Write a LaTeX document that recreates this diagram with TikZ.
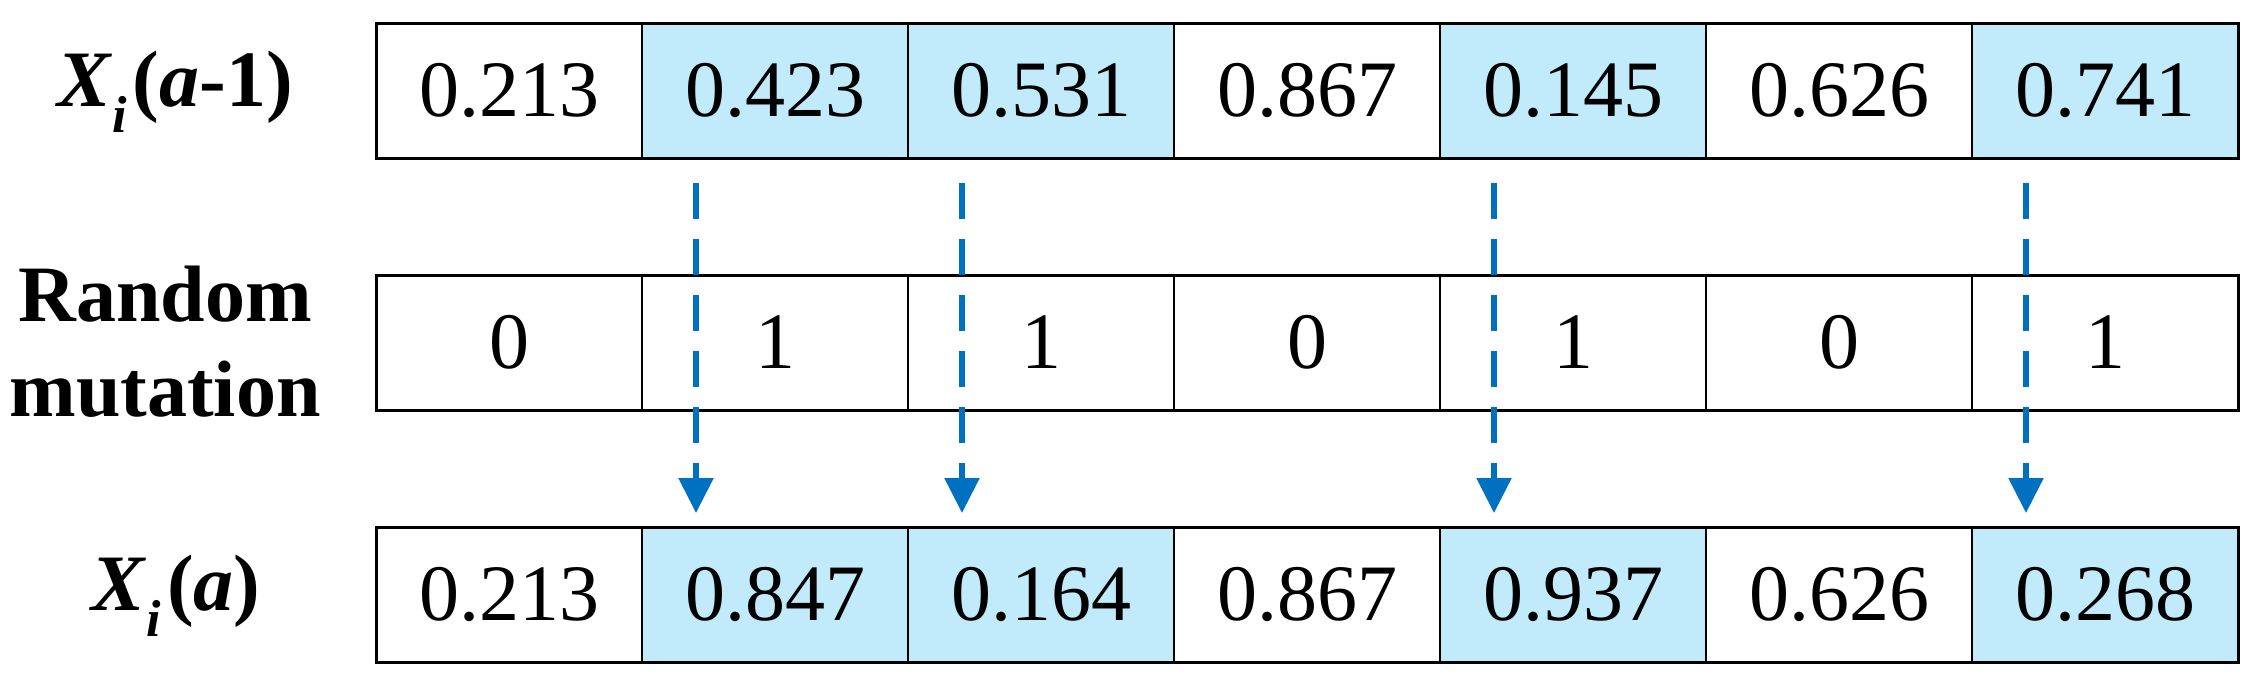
\documentclass[tikz,border=0pt]{standalone}
\usepackage{fontspec}
\setmainfont{Liberation Serif}
\usetikzlibrary{arrows.meta}
\definecolor{cellblue}{RGB}{193,234,251}
\definecolor{arrblue}{RGB}{0,112,192}
\tikzset{
  cell/.style={draw=black, line width=2pt, minimum width=266pt, minimum height=135pt,
    inner sep=0pt, outer sep=0pt, anchor=north west,
    font=\fontsize{80pt}{96pt}\selectfont},
  hl/.style={cell, fill=cellblue},
  rowframe/.style={draw=black, line width=3pt},
  lbl/.style={align=center, inner sep=0pt, font=\fontsize{80pt}{95pt}\selectfont\bfseries},
  mutarrow/.style={draw=arrblue, line width=5.5pt, dash pattern=on 36pt off 20pt,
    -{Triangle[length=35pt,width=34pt]}}
}
\newcommand{\subi}{\raisebox{-0.32em}{\fontsize{52pt}{60pt}\selectfont\textit{i}}\hspace{0.08em}}
\begin{document}
\begin{tikzpicture}[x=1pt,y=1pt]
\useasboundingbox (0,0) rectangle (2253,-680);
% row 1
\node[cell] (a1) at (376,-23) {0.213};
\node[hl]   (a2) at (642,-23) {0.423};
\node[hl]   (a3) at (908,-23) {0.531};
\node[cell] (a4) at (1174,-23) {0.867};
\node[hl]   (a5) at (1440,-23) {0.145};
\node[cell] (a6) at (1706,-23) {0.626};
\node[hl]   (a7) at (1972,-23) {0.741};
\draw[rowframe] (a1.north west) rectangle (a7.south east);
% row 2
\node[cell] (b1) at (376,-275) {0};
\node[cell] (b2) at (642,-275) {1};
\node[cell] (b3) at (908,-275) {1};
\node[cell] (b4) at (1174,-275) {0};
\node[cell] (b5) at (1440,-275) {1};
\node[cell] (b6) at (1706,-275) {0};
\node[cell] (b7) at (1972,-275) {1};
\draw[rowframe] (b1.north west) rectangle (b7.south east);
% row 3
\node[cell] (c1) at (376,-527) {0.213};
\node[hl]   (c2) at (642,-527) {0.847};
\node[hl]   (c3) at (908,-527) {0.164};
\node[cell] (c4) at (1174,-527) {0.867};
\node[hl]   (c5) at (1440,-527) {0.937};
\node[cell] (c6) at (1706,-527) {0.626};
\node[hl]   (c7) at (1972,-527) {0.268};
\draw[rowframe] (c1.north west) rectangle (c7.south east);
% labels
\node[lbl] (la) at (175,-92) {\textit{X}\subi(\textit{a}-1)};
\node[lbl] (lb) at (165,-342) {Random\\mutation};
\node[lbl] (lc) at (176,-596) {\textit{X}\subi(\textit{a})};
% arrows
\foreach \k in {2,3,5,7}{
  \draw[mutarrow] ([xshift=54pt,yshift=-25pt]a\k.south west) -- ([xshift=54pt,yshift=14pt]c\k.north west);
}
\end{tikzpicture}
\end{document}
